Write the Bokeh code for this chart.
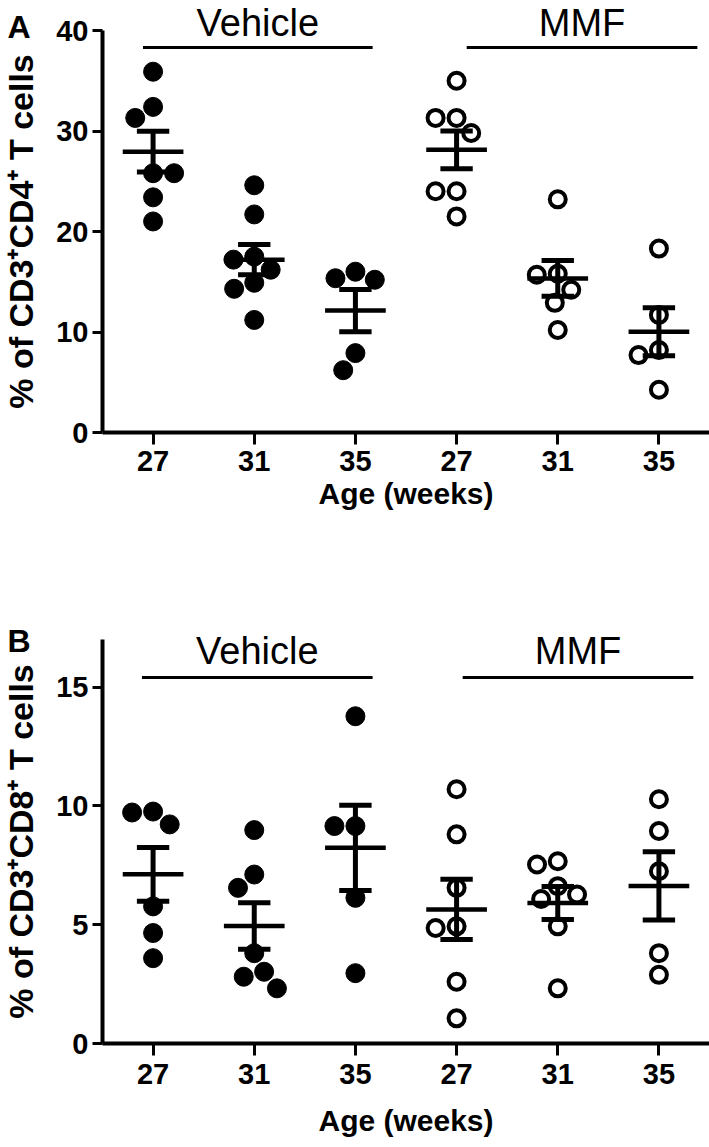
import math
from bokeh.plotting import figure
from bokeh.models import Range1d, FixedTicker
from bokeh.core.properties import value
from bokeh.layouts import column
from bokeh.embed import file_html
from bokeh.resources import INLINE

# ---------------- data ----------------
weeks = ["27", "31", "35"]
groups = ["Vehicle", "MMF"]
x_title = "Age (weeks)"
cd4_title = "% of CD3\u207aCD4\u207a T cells"
cd8_title = "% of CD3\u207aCD8\u207a T cells"

cd4_vehicle_27 = [35.9, 32.4, 31.3, 25.8, 25.8, 23.4, 21.0]
cd4_vehicle_31 = [24.6, 21.7, 17.5, 17.2, 16.2, 14.9, 14.3, 11.2]
cd4_vehicle_35 = [16.0, 15.35, 15.2, 7.9, 6.2]
cd4_mmf_27 = [35.0, 31.3, 31.3, 29.8, 24.0, 24.0, 21.5]
cd4_mmf_31 = [23.2, 15.8, 15.7, 14.2, 12.9, 10.2]
cd4_mmf_35 = [18.3, 11.7, 8.2, 7.7, 4.25]

cd8_vehicle_27 = [9.76, 9.72, 9.22, 5.77, 4.65, 3.59]
cd8_vehicle_31 = [8.98, 7.11, 6.55, 3.8, 3.02, 2.81, 2.32]
cd8_vehicle_35 = [13.77, 9.15, 9.15, 6.13, 2.96]
cd8_mmf_27 = [10.7, 8.8, 6.55, 4.93, 4.86, 2.6, 1.06]
cd8_mmf_31 = [7.67, 7.53, 6.62, 6.27, 6.08, 4.93, 2.32]
cd8_mmf_35 = [10.28, 8.94, 7.25, 3.8, 2.89]

cd4_ticks = [0, 10, 20, 30, 40]
cd8_ticks = [0, 5, 10, 15]

# ---------------- styling / layout ----------------
FONT = "Liberation Sans"
W = 709
AXIS_X = 102           # pixel column of the y axis
PPU_X = (W - AXIS_X) / 6.0
X_START = -AXIS_X / PPU_X


def xd(px):
    return X_START + px / PPU_X


def swarm(vals, ppu_y, ppu_x, diam):
    """Simple beeswarm: offsets (data units) so markers do not overlap."""
    placed = []
    offs = []
    last = 1
    for v in vals:
        y = v * ppu_y
        blocks = []
        for px, py in placed:
            dy = abs(py - y)
            if dy < diam:
                w = math.sqrt(diam ** 2 - dy ** 2)
                blocks.append((px - w, px + w))
        cands = [0.0] + [b for iv in blocks for b in iv]
        ok = [c for c in cands
              if all(not (lo + 1e-6 < c < hi - 1e-6) for lo, hi in blocks)]
        ok.sort(key=lambda c: (round(abs(c), 3), 0 if (c < 0) == (last > 0) else 1))
        x = ok[0]
        if abs(x) > 1e-6:
            last = 1 if x > 0 else -1
        placed.append((x, y))
        offs.append(x / ppu_x)
    return offs


def mean_sem(vals):
    n = len(vals)
    m = sum(vals) / n
    sd = math.sqrt(sum((v - m) ** 2 for v in vals) / (n - 1))
    return m, sd / math.sqrt(n)


def panel(height, y_top_px, y0_px, ymax, yticks, ylabel, vehicle, mmf,
          bar_x0, bar_x1, bar_px, text_px, letter, letter_px, title_px,
          tick_standoff):
    ppu_y = (y0_px - y_top_px) / ymax

    def yd(px):
        return (y0_px - px) / ppu_y

    p = figure(width=W, height=height, x_range=Range1d(X_START, 6),
               y_range=Range1d(yd(height), yd(0)), output_backend="svg",
               toolbar_location=None, min_border=0)
    p.outline_line_color = None
    p.xgrid.visible = False
    p.ygrid.visible = False

    xpos = [i + 0.5 for i in range(6)]
    sets = vehicle + mmf
    for i, vals in enumerate(sets):
        offs = swarm(vals, ppu_y, PPU_X, 21)
        xs = [xpos[i] + o for o in offs]
        if i < 3:
            p.scatter(xs, vals, size=19, marker="circle",
                      fill_color="black", line_color="black", line_width=1)
        else:
            p.scatter(xs, vals, size=16, marker="circle",
                      fill_color="white", line_color="black", line_width=4)
    # mean +/- SEM
    for i, vals in enumerate(sets):
        m, s = mean_sem(vals)
        x = xpos[i]
        p.segment(x0=[x - 0.3], y0=[m], x1=[x + 0.3], y1=[m],
                  line_color="black", line_width=4.5)
        p.segment(x0=[x], y0=[m - s], x1=[x], y1=[m + s],
                  line_color="black", line_width=5)
        p.segment(x0=[x - 0.16, x - 0.16], y0=[m - s, m + s],
                  x1=[x + 0.16, x + 0.16], y1=[m - s, m + s],
                  line_color="black", line_width=5)

    # group bars and labels
    by = yd(bar_px)
    p.segment(x0=bar_x0, y0=[by, by], x1=bar_x1, y1=[by, by],
              line_color="black", line_width=3)
    ty = yd(text_px)
    p.text(x=[(a + b) / 2 for a, b in zip(bar_x0, bar_x1)], y=[ty, ty],
           text=groups, text_align="center", text_baseline="middle",
           text_font=value(FONT), text_font_size="38px", text_color="black")
    # panel letter
    p.text(x=[xd(7)], y=[yd(letter_px)], text=[letter],
           text_align="left", text_baseline="middle",
           text_font=value(FONT), text_font_style="bold",
           text_font_size="32px", text_color="black")
    # axis titles
    p.text(x=[3.0], y=[yd(title_px)], text=[x_title], text_align="center",
           text_baseline="middle", text_font=value(FONT),
           text_font_style="bold", text_font_size="30px", text_color="black")
    p.text(x=[xd(20)], y=[ymax / 2.0], text=[ylabel], angle=math.pi / 2,
           text_align="center", text_baseline="middle",
           text_font=value(FONT), text_font_style="bold",
           text_font_size="34px", text_color="black")

    # axes (drawn at x = 0 and y = 0)
    xa = p.xaxis[0]
    xa.fixed_location = 0
    xa.ticker = FixedTicker(ticks=xpos)
    xa.bounds = (0, 6)
    xa.major_label_overrides = {x: w for x, w in zip(xpos, weeks + weeks)}
    ya = p.yaxis[0]
    ya.fixed_location = 0
    ya.ticker = FixedTicker(ticks=yticks)
    ya.bounds = (0, ymax)
    for ax in (xa, ya):
        ax.axis_line_width = 4
        ax.axis_line_color = "black"
        ax.major_tick_line_width = 3
        ax.major_tick_line_color = "black"
        ax.major_tick_in = 0
        ax.minor_tick_line_color = None
        ax.major_label_text_color = "black"
        ax.major_label_text_font_style = "bold"
        ax.major_label_text_font = FONT
        ax.major_label_text_font_size = "29px"
    xa.major_tick_out = 12
    xa.major_label_standoff = tick_standoff
    ya.major_tick_out = 10
    ya.major_label_standoff = 4
    return p


# panel A occupies page rows 0..530: y=40 at 30, y=0 at 432
pA = panel(530, 30, 432, 40, cd4_ticks, cd4_title,
           [cd4_vehicle_27, cd4_vehicle_31, cd4_vehicle_35],
           [cd4_mmf_27, cd4_mmf_31, cd4_mmf_35],
           bar_x0=[0.4, 3.6], bar_x1=[2.67, 5.88], bar_px=47, text_px=22,
           letter="A", letter_px=26, title_px=493, tick_standoff=6)
# panel B occupies page rows 530..1147: y=17 at 639, y=0 at 1043
pB = panel(617, 639 - 530, 1043 - 530, 17, cd8_ticks, cd8_title,
           [cd8_vehicle_27, cd8_vehicle_31, cd8_vehicle_35],
           [cd8_mmf_27, cd8_mmf_31, cd8_mmf_35],
           bar_x0=[0.39, 3.56], bar_x1=[2.67, 5.84], bar_px=677 - 530,
           text_px=650 - 530, letter="B", letter_px=640 - 530,
           title_px=1120 - 530, tick_standoff=8)

layout = column(pA, pB, spacing=0)
open("out.html", "w").write(file_html(layout, INLINE))
